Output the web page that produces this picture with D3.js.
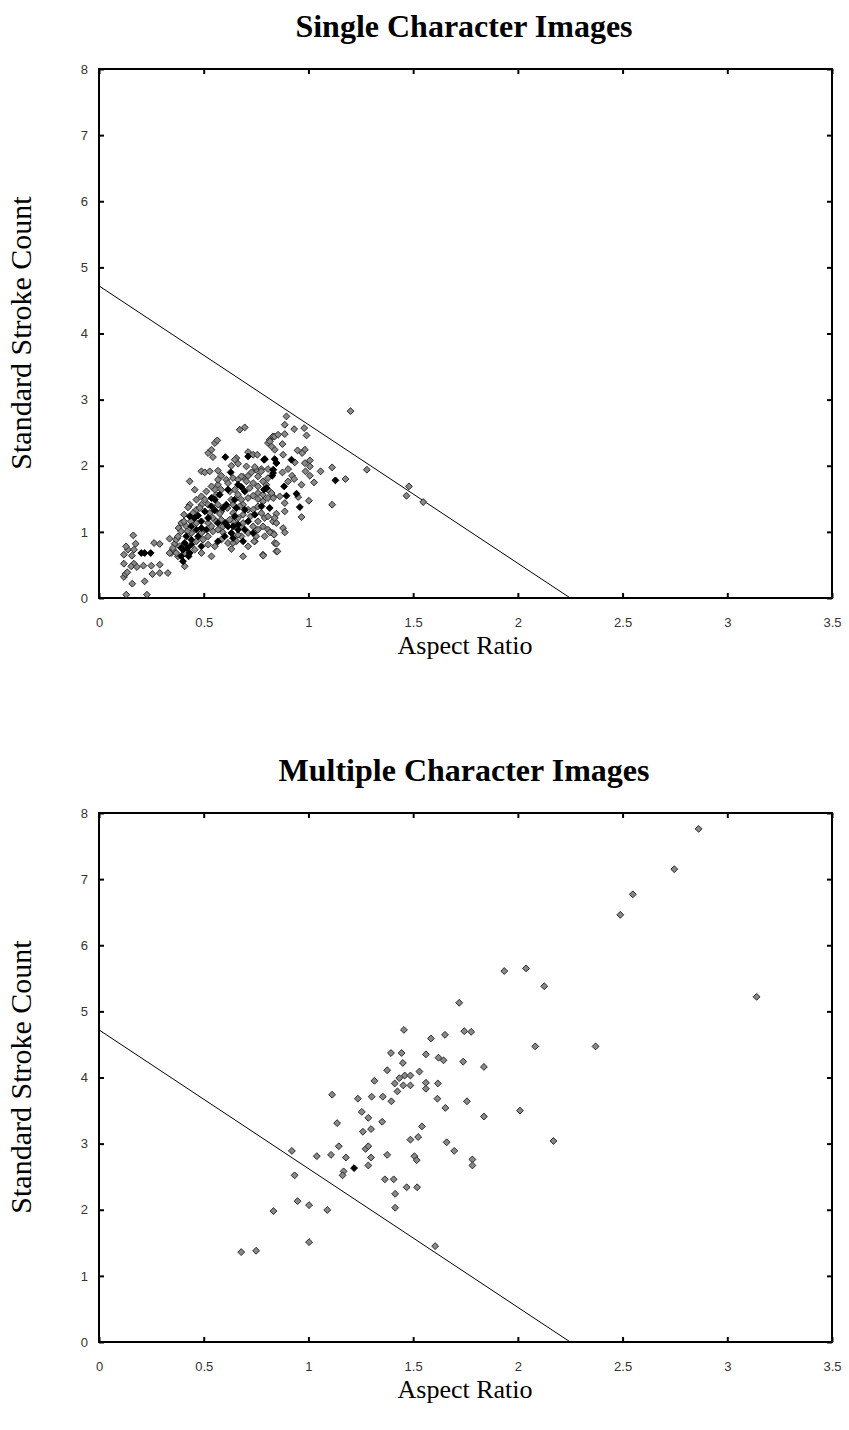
<!DOCTYPE html>
<html>
<head>
<meta charset="utf-8">
<script src="https://cdn.jsdelivr.net/npm/d3@7"></script>
<style>
  body { margin: 0; background: #fff; }
  .tick text { font-family: "Liberation Sans", Arial, sans-serif; font-size: 13px; fill: #333; }
  .axis path.domain { display: none; }
  .axis .tick line { stroke: #000; stroke-width: 2; }
  .title { font-family: "Liberation Serif", "Times New Roman", serif; font-weight: bold; font-size: 32px; }
  .axis-label { font-family: "Liberation Serif", "Times New Roman", serif; font-size: 26px; }
  .y-label { font-family: "Liberation Serif", "Times New Roman", serif; font-size: 30px; }
</style>
</head>
<body>
<svg id="chart"></svg>
<script>
// tick values shared by both panels
const xTicks = [0, 0.5, 1, 1.5, 2, 2.5, 3, 3.5];
const yTicks = [0, 1, 2, 3, 4, 5, 6, 7, 8];
// decision line: [aspect ratio, stroke count] at both ends
const boundary = [[0, 4.72], [2.25, 0]];

// Single character images: gray points [aspect ratio, standard stroke count]
const singleGray = [
  [0.130,0.05],[0.229,0.05],[0.159,0.217],[0.218,0.252],[0.119,0.318],[0.126,0.363],[0.135,0.388],
  [0.119,0.519],[0.167,0.519],[0.154,0.479],[0.181,0.469],[0.212,0.489],[0.250,0.489],[0.290,0.504],
  [0.290,0.378],[0.329,0.378],[0.255,0.363],[0.119,0.655],[0.138,0.731],[0.129,0.781],[0.167,0.731],
  [0.175,0.821],[0.164,0.947],[0.157,0.640],[0.263,0.832],[0.290,0.817],[0.337,0.897],[0.345,0.680],
  [0.353,0.731],[0.361,0.821],[0.374,0.907],[0.393,1.134],[0.380,1.058],[0.406,1.260],[0.433,1.411],
  [0.425,1.371],[0.433,1.764],[0.457,1.638],[0.489,1.915],[0.505,1.900],[0.529,1.915],[0.568,1.925],
  [0.521,2.192],[0.537,2.242],[0.553,2.343],[0.565,2.383],[0.544,2.131],[0.672,2.545],[0.696,2.580],
  [0.656,2.116],[0.664,2.031],[0.648,2.091],[0.712,2.207],[0.736,2.167],[0.756,2.167],[0.807,2.343],
  [0.584,1.849],[0.608,1.789],[0.640,1.814],[0.664,1.789],[0.688,1.829],[0.712,1.849],[0.728,1.900],
  [0.751,1.940],[0.775,1.950],[0.807,1.950],[0.736,1.738],[0.759,1.688],[0.799,1.713],[0.568,1.713],
  [0.553,1.638],[0.537,1.688],[0.513,1.612],[0.489,1.537],[0.616,1.738],[0.624,1.612],[0.648,1.638],
  [0.568,1.411],[0.640,1.411],[0.680,1.487],[0.712,1.512],[0.736,1.547],[0.759,1.497],[0.783,1.461],
  [0.807,1.512],[0.831,1.537],[0.712,1.335],[0.724,1.235],[0.775,1.285],[0.791,1.210],[0.688,1.260],
  [0.664,1.210],[0.640,1.159],[0.505,1.487],[0.489,1.411],[0.465,1.335],[0.449,1.285],[0.521,1.134],
  [0.544,1.209],[0.560,1.159],[0.584,1.184],[0.680,1.083],[0.568,1.033],[0.592,0.993],[0.544,1.008],
  [0.441,0.983],[0.497,0.882],[0.521,0.932],[0.584,0.882],[0.680,0.932],[0.656,0.857],[0.712,0.983],
  [0.736,1.083],[0.759,1.159],[0.807,1.033],[0.831,0.983],[0.791,0.932],[0.744,0.857],[0.839,0.832],
  [0.847,0.705],[0.385,0.781],[0.409,0.680],[0.457,0.731],[0.409,0.479],[0.489,0.680],[0.537,0.630],
  [0.632,0.741],[0.688,0.630],[0.783,0.655],[0.369,0.882],[0.353,0.756],[0.337,0.680],[0.377,0.932],
  [0.393,1.008],[0.417,1.083],[0.406,1.159],[0.438,1.159],[0.568,1.789],[0.632,2.000],[0.704,1.990],
  [0.744,1.980],[0.775,1.915],[0.807,1.814],[0.815,2.393],[0.831,2.444],[0.839,2.242],[0.688,1.411],
  [0.584,1.310],[0.613,1.361],[0.640,1.285],
  [0.465,1.487],[0.481,1.361],[0.529,1.285],[0.576,1.275],[0.632,1.487],[0.664,1.562],[0.720,1.663],
  [0.680,1.839],[0.704,1.764],[0.759,1.839],[0.783,1.764],[0.759,1.587],[0.783,1.562],[0.807,1.638],
  [0.736,1.335],[0.759,1.386],[0.807,1.235],[0.831,1.159],[0.688,1.134],[0.759,1.033],[0.783,1.083],
  [0.537,1.083],[0.489,0.983],[0.465,1.134],[0.422,1.008],[0.465,0.857],[0.521,0.807],[0.553,0.781],
  [0.616,0.832],[0.377,0.630],[0.369,0.680],[0.584,1.638],[0.560,1.562],[0.521,1.411],[0.672,1.386],
  [0.624,1.184],[0.592,1.083],[0.664,0.957],[0.640,0.832],[0.712,0.781],[0.751,0.932],
  [1.201,2.826],[1.279,1.940],[1.480,1.688],[1.468,1.547],[1.548,1.451],[0.895,2.746],[0.887,2.620],
  [0.932,2.554],[0.980,2.570],[0.991,2.459],[0.887,2.479],[0.839,2.443],[0.855,2.469],[0.816,2.368],
  [0.824,2.292],[0.876,2.328],[0.879,2.166],[0.948,2.232],[0.983,2.242],[0.970,2.192],[0.935,2.051],
  [0.983,2.040],[1.007,2.081],[1.007,1.990],[0.986,1.915],[1.007,1.849],[1.027,1.748],[0.903,1.950],
  [0.922,1.849],[0.932,1.799],[0.876,1.899],[1.058,1.915],[1.113,1.975],[1.177,1.799],[0.967,1.713],
  [0.951,1.527],[1.002,1.471],[1.113,1.411],[0.967,1.224],[0.887,1.310],[0.887,1.436],[0.847,1.275],
  [0.847,1.134],[0.839,1.209],[0.879,1.058],[0.887,0.992],[0.816,0.992],[0.836,0.957],[0.847,0.821],
  [0.852,0.705],[0.784,0.640],[0.741,0.857],[0.863,1.537],[0.824,1.587],[0.903,1.763],[0.832,1.511]
];
// Single character images: black points
const singleBlack = [
  [0.202,0.680],[0.218,0.680],[0.247,0.680],[0.603,2.131],[0.712,2.141],[0.788,2.091],[0.629,1.900],
  [0.664,1.713],[0.680,1.678],[0.788,1.638],[0.576,1.562],[0.553,1.487],[0.537,1.386],[0.608,1.411],
  [0.656,1.361],[0.815,1.361],[0.744,1.260],[0.433,1.235],[0.457,1.210],[0.473,1.245],[0.489,1.159],
  [0.521,1.209],[0.603,1.134],[0.616,1.083],[0.640,1.083],[0.664,1.109],[0.489,1.058],[0.465,1.033],
  [0.417,0.933],[0.473,0.932],[0.568,0.857],[0.632,0.983],[0.640,0.907],[0.688,0.857],[0.441,0.807],
  [0.422,0.756],[0.401,0.731],[0.433,0.680],[0.393,0.630],[0.401,0.555],[0.831,1.890],[0.847,2.041],
  [0.648,1.487],[0.664,1.033],[0.839,2.101],[0.847,2.040],[0.792,2.101],[0.832,1.940],[0.827,1.849],
  [0.919,2.091],[1.129,1.779],[0.884,1.688],[0.895,1.547],[0.943,1.577],[0.959,1.375],[0.800,1.662],
  [0.776,1.386],
  [0.505,1.310],[0.553,1.325],[0.592,1.361],[0.696,1.612],[0.712,1.159],[0.736,0.983],[0.568,1.134],
  [0.513,1.033],[0.441,1.083],[0.441,0.882],[0.489,0.781],[0.600,0.932],[0.409,0.832],[0.428,0.630],
  [0.393,0.756],[0.616,1.638],[0.537,1.512],[0.696,1.335],[0.648,1.235],[0.696,1.033]
];

// Multiple character images
const multiGray = [
  [2.863,7.76],[2.747,7.15],[2.549,6.77],[2.489,6.46],[1.935,5.61],[2.039,5.65],[2.126,5.38],[3.140,5.22],
  [1.720,5.13],[1.456,4.72],[1.744,4.70],[1.777,4.69],[1.585,4.59],[1.652,4.645],[1.394,4.37],[1.445,4.37],
  [1.451,4.22],[1.561,4.35],[1.621,4.30],[1.645,4.26],[1.739,4.24],[1.838,4.16],[2.083,4.47],[2.371,4.47],
  [1.376,4.11],[1.530,4.09],[1.315,3.95],[1.434,3.99],[1.460,4.03],[1.487,4.03],[1.412,3.91],[1.453,3.88],
  [1.487,3.88],[1.561,3.92],[1.561,3.83],[1.618,3.91],[1.425,3.79],[1.113,3.74],[1.236,3.68],[1.302,3.71],
  [1.355,3.71],[1.396,3.64],[1.616,3.68],[1.654,3.54],[1.757,3.64],[2.010,3.50],[1.838,3.41],[1.255,3.48],
  [1.286,3.39],[1.352,3.33],[1.137,3.31],[1.260,3.18],[1.299,3.22],[1.542,3.26],[1.524,3.10],[1.487,3.06],
  [1.660,3.02],[2.170,3.04],[1.696,2.89],[0.921,2.89],[1.040,2.81],[1.108,2.83],[1.145,2.96],[1.179,2.79],
  [1.273,2.92],[1.286,2.96],[1.299,2.79],[1.376,2.83],[1.506,2.81],[1.517,2.75],[1.783,2.76],[1.783,2.67],
  [1.168,2.58],[1.163,2.52],[1.286,2.67],[0.934,2.52],[1.365,2.46],[1.407,2.46],[1.469,2.34],[1.519,2.34],
  [1.414,2.24],[1.414,2.03],[0.948,2.13],[1.003,2.07],[1.090,1.997],[0.833,1.98],[1.003,1.51],[1.605,1.45],
  [0.679,1.36],[0.750,1.38]
];
const multiBlack = [[1.218,2.63]];

class Scatterplot {
    constructor(config){
        this.svg = config.svg;
        this.top = config.top;
        this.title = config.title;
        this.gray = config.gray;
        this.black = config.black;
        // plot frame inside each panel
        this.frame = {left: 99, right: 832, top: 69, bottom: 598};
        this.initVis();
    }

    initVis(){
        let vis = this;
        vis.g = vis.svg.append('g')
            .attr('transform', `translate(0,${vis.top})`);

        vis.xScale = d3.scaleLinear()
            .domain([0, 3.5])
            .range([vis.frame.left, vis.frame.right]);

        vis.yScale = d3.scaleLinear()
            .domain([0, 8])
            .range([vis.frame.bottom, vis.frame.top]);

        // ticks point into the plot, labels only on bottom & left
        vis.xAxis = d3.axisBottom(vis.xScale)
            .tickValues(xTicks)
            .tickSizeInner(-5).tickSizeOuter(0)
            .tickPadding(20)
            .tickFormat(d3.format(''));
        vis.xAxisTop = d3.axisTop(vis.xScale)
            .tickValues(xTicks)
            .tickSizeInner(-5).tickSizeOuter(0)
            .tickFormat('');
        vis.yAxis = d3.axisLeft(vis.yScale)
            .tickValues(yTicks)
            .tickSizeInner(-5).tickSizeOuter(0)
            .tickPadding(11);
        vis.yAxisRight = d3.axisRight(vis.yScale)
            .tickValues(yTicks)
            .tickSizeInner(-5).tickSizeOuter(0)
            .tickFormat('');

        vis.renderVis();
    }

    renderVis(){
        let vis = this;
        const f = vis.frame;

        vis.g.append('g').attr('class', 'axis')
            .attr('transform', `translate(0,${f.bottom})`).call(vis.xAxis);
        vis.g.append('g').attr('class', 'axis')
            .attr('transform', `translate(0,${f.top})`).call(vis.xAxisTop);
        vis.g.append('g').attr('class', 'axis')
            .attr('transform', `translate(${f.left},0)`).call(vis.yAxis);
        vis.g.append('g').attr('class', 'axis')
            .attr('transform', `translate(${f.right},0)`).call(vis.yAxisRight);

        vis.g.append('rect')
            .attr('x', f.left).attr('y', f.top)
            .attr('width', f.right - f.left).attr('height', f.bottom - f.top)
            .attr('fill', 'none').attr('stroke', '#000').attr('stroke-width', 2);

        // decision line
        vis.g.append('path')
            .datum(boundary)
            .attr('fill', 'none').attr('stroke', '#000').attr('stroke-width', 1)
            .attr('d', d3.line().x(d => vis.xScale(d[0])).y(d => vis.yScale(d[1])));

        const diamond = d3.symbol().type(d3.symbolDiamond2).size(30);

        vis.g.selectAll('.gray-point')
            .data(vis.gray)
            .join('path')
            .attr('class', 'gray-point')
            .attr('d', diamond)
            .attr('transform', d => `translate(${vis.xScale(d[0])},${vis.yScale(d[1])})`)
            .attr('fill', '#888').attr('stroke', '#2a2a2a').attr('stroke-width', 1);

        vis.g.selectAll('.black-point')
            .data(vis.black)
            .join('path')
            .attr('class', 'black-point')
            .attr('d', diamond)
            .attr('transform', d => `translate(${vis.xScale(d[0])},${vis.yScale(d[1])})`)
            .attr('fill', '#000').attr('stroke', '#000').attr('stroke-width', 1);

        vis.g.append('text')
            .attr('class', 'title')
            .attr('x', 464).attr('y', 37)
            .attr('text-anchor', 'middle')
            .text(vis.title);

        vis.g.append('text')
            .attr('class', 'axis-label')
            .attr('x', 465).attr('y', 654)
            .attr('text-anchor', 'middle')
            .text('Aspect Ratio');

        vis.g.append('text')
            .attr('class', 'y-label')
            .attr('transform', `translate(31,333) rotate(-90)`)
            .attr('text-anchor', 'middle')
            .text('Standard Stroke Count');
    }
}

const svg = d3.select('#chart')
    .attr('width', 849)
    .attr('height', 1430);

new Scatterplot({svg: svg, top: 0, title: 'Single Character Images', gray: singleGray, black: singleBlack});
new Scatterplot({svg: svg, top: 744, title: 'Multiple Character Images', gray: multiGray, black: multiBlack});
</script>
</body>
</html>
